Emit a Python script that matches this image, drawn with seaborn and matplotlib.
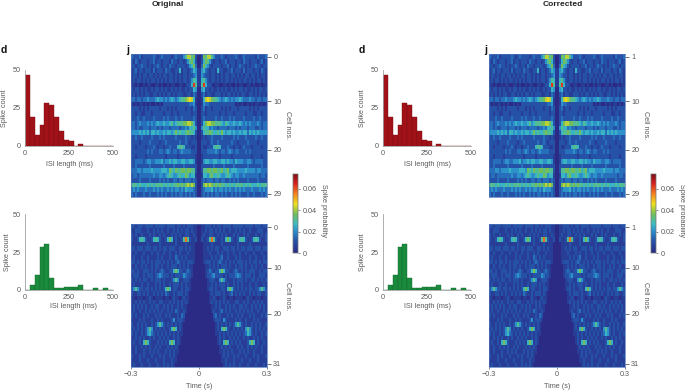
import numpy as np
import pandas as pd
import seaborn as sns
import matplotlib.pyplot as plt
from matplotlib.colors import LinearSegmentedColormap

W, H = 685, 390
GREY = "#58595b"
AXIS = "#a0a0a0"
FS = 5.2

###############################################################
# HISTOGRAM DATA (18 bins over 0-500 ms)
###############################################################
bin_centers = (np.arange(18) + 0.5) * 500 / 18
red_counts = [47, 19, 7, 14, 28, 27, 19, 10, 4, 3, 0, 1, 0, 0, 0, 0, 0, 0]
green_counts = [0, 3, 10, 28, 30, 8, 1, 1, 2, 2, 2, 3, 0, 0, 1, 0, 1, 0]

###############################################################
# AUTOCORRELOGRAMS, right half only (they are symmetric around 0)
# one hex digit per bin: 1 = 0, then 0.0052 spike probability per step
###############################################################
top_rows = [
    "1387997533343233334323433333243334",
    "1368753233233423332332433233323423",
    "1486532333323342332343323233433233",
    "2564323326332233423332423332332432",
    "2543323323232332332323233233232332",
    "2675323323232332323232332323233232",
    "27d6332122112212112122112212112122",
    "1563323223232322323233232232323323",
    "1342332233323233232323322332323232",
    "1269a98776545654545565444544344344",
    "1254433333333333331212112121221212",
    "1342332333323232333233333232323333",
    "1332333333233233323333323332233233",
    "1343333343343334343333433334334333",
    "1368998877765765565565454544454344",
    "1576645443444434443434443444334344",
    "1367787667686566565565664656565555",
    "1232334333343333343433343333433433",
    "1333234334333333433233334333323333",
    "1322333677633343323323433323333233",
    "1333444454344345434433343433333333",
    "1233333333233333233333333323333233",
    "1256655665566565546555445543444433",
    "1333333433334333343333334333333433",
    "1377887887786785666555565555455444",
    "1266578667655676545544544444443443",
    "1343444344344334343433334333343333",
    "1389898787877676767777676766676777",
    "1345556454554545445454544454445454",
    "1343434344343433434343334334333434",
]
bottom_rows = [
    "1223332323323333233333233332333233",
    "1223233232323223223232322322233322",
    "1232233223232322232322323222322323",
    "132237c732232686322367632236763223",
    "1122223222232222222322222322222222",
    "1122323233223332332323323332333233",
    "1122232223232232232232232223222322",
    "1122223232342232223232222322322232",
    "1123332323432323232333232323323233",
    "1112232323233323223233232232322322",
    "1112343233686332234323232333223233",
    "1112334533332323334543233323223332",
    "1111233322575322232333232233232323",
    "1111223232333232232323222322322232",
    "1111233232233268632323232332335753",
    "1111123233323223423232322323233223",
    "1111122321223212212222123221222122",
    "1111123232323232223322323223232322",
    "1111112232322323232233232232323232",
    "1111112322342323223232323232232232",
    "1111111342322232322323222323222323",
    "1111111233325322223232232223232222",
    "1111111123232323235753232232323223",
    "1111111123268632232323257532323232",
    "1111111122323232323232346532322323",
    "1111111112323223232322323223232322",
    "1111111112326862323232223686232232",
    "1111111111232323222323223232322322",
    "1111111111223232322232323223222322",
    "1111111111123232232322232223232223",
    "1111111111122322232223222322232222",
    "1111111111112323232232223222322232",
]

###############################################################
# TICKS AND LABELS
###############################################################
top_tick_pos = [0.6, 9.9, 20.1, 29.3]
bottom_tick_pos = [0.7, 9.8, 20.1, 31.3]
left_top_labels = ["0", "10", "20", "29"]
left_bottom_labels = ["0", "10", "20", "31"]
right_top_labels = ["1", "10", "20", "29"]
right_bottom_labels = ["1", "10", "20", "31"]
cbar_ticks = [0, 0.02, 0.04, 0.06]
cbar_labels = ["0", "0.02", "0.04", "0.06"]

cmap = LinearSegmentedColormap.from_list("muted_jet", [
    (0.0, "#2b2a85"), (0.16, "#2456aa"), (0.27, "#2b8ccb"), (0.37, "#3dbcc0"),
    (0.49, "#70bd5c"), (0.62, "#efe01f"), (0.75, "#f58220"), (0.88, "#d8201f"),
    (1.0, "#7a1015"),
])
VMAX = 0.0735


def to_matrix(rows):
    half = np.array([[(int(c, 16) - 1) * 0.0052 for c in r] for r in rows])
    return pd.DataFrame(np.hstack([half[:, ::-1], half]))


def px_axes(fig, x0, y0, x1, y1):
    return fig.add_axes([x0 / W, 1 - y1 / H, (x1 - x0) / W, (y1 - y0) / H])


def px_text(fig, x, y, s, **kw):
    kw.setdefault("color", GREY)
    kw.setdefault("fontsize", FS)
    fig.text(x / W, 1 - y / H, s, ha="center", va="center", **kw)


def draw_hist(fig, x0, y0, x1, y1, counts, color, edge):
    ax = px_axes(fig, x0, y0, x1, y1)
    sns.histplot(x=bin_centers, weights=counts, binwidth=500 / 18, binrange=(0, 500), ax=ax,
                 color=color, edgecolor=edge, linewidth=0.3, alpha=1)
    ax.set_xlim(0, 500)
    ax.set_ylim(0, 50)
    ax.set_xticks([0, 250, 500])
    ax.set_yticks([0, 25, 50])
    ax.set_xlabel("")
    ax.set_ylabel("")
    sns.despine(ax=ax)
    for s in ["left", "bottom"]:
        ax.spines[s].set_color(AXIS)
        ax.spines[s].set_linewidth(0.6)
    ax.tick_params(length=1.6, width=0.5, color=AXIS, labelcolor=GREY, labelsize=FS, pad=1.5)
    ax.grid(False)
    ax.patch.set_alpha(0)


def draw_heat(fig, x0, y0, x1, y1, data, tick_pos, tick_labels, cax=None):
    ax = px_axes(fig, x0, y0, x1, y1)
    sns.heatmap(data, ax=ax, cmap=cmap, vmin=0, vmax=VMAX, xticklabels=False, yticklabels=False,
                cbar=cax is not None, cbar_ax=cax, rasterized=True)
    ax.yaxis.tick_right()
    ax.set_yticks(tick_pos)
    ax.set_yticklabels(tick_labels, rotation=0)
    ax.tick_params(axis="y", right=True, left=False, length=3, width=0.6, color=GREY,
                   labelcolor=GREY, labelsize=FS, pad=1.5)
    for s in ax.spines.values():
        s.set_visible(True)
        s.set_color("#4f74b8")
        s.set_linewidth(0.5)
    return ax


sns.set_style("white")
plt.rcParams["font.family"] = ["Liberation Sans", "DejaVu Sans"]

fig = plt.figure(figsize=(W / 100, H / 100), dpi=100)
top_df = to_matrix(top_rows)
bottom_df = to_matrix(bottom_rows)

# left group, right group is the same thing moved over
groups = [
    (0, "Original", left_top_labels, left_bottom_labels, 168, 69, 74, 5, 8),
    (358, "Corrected", right_top_labels, right_bottom_labels, 563, 427, 427, 362, 362),
]
for dx, title, top_labels, bottom_labels, title_x, xl_top, xl_bottom, yl_top, yl_bottom in groups:
    px_text(fig, title_x, 4, title, fontweight="bold", color="#222222", fontsize=6)
    px_text(fig, 4 + dx, 50, "d", fontweight="bold", color="#111111", fontsize=7.5)
    px_text(fig, 128 + dx, 50, "j", fontweight="bold", color="#111111", fontsize=7.5)

    draw_hist(fig, 25 + dx, 70, 112.5 + dx, 146, red_counts, "#a01218", "#7d0f12")
    draw_hist(fig, 25 + dx, 214, 112.5 + dx, 290, green_counts, "#1a8a3c", "#136b2e")
    px_text(fig, xl_top, 164, "ISI length (ms)")
    px_text(fig, xl_bottom, 306, "ISI length (ms)")
    px_text(fig, yl_top, 108, "Spike count", rotation=90)
    px_text(fig, yl_bottom, 252, "Spike count", rotation=90)

    cax = px_axes(fig, 293 + dx, 174, 298 + dx, 253)
    draw_heat(fig, 131 + dx, 54, 267 + dx, 197, top_df, top_tick_pos, top_labels, cax=cax)
    cax.set_yticks(cbar_ticks)
    cax.set_yticklabels(cbar_labels)
    cax.tick_params(length=1.6, width=0.5, color=GREY, labelcolor=GREY, labelsize=FS, pad=1.5)
    for s in cax.spines.values():
        s.set_visible(True)
        s.set_color("#777777")
        s.set_linewidth(0.3)

    ax = draw_heat(fig, 131 + dx, 224, 267 + dx, 367, bottom_df, bottom_tick_pos, bottom_labels)
    ax.set_xticks([0, 34, 68])
    ax.set_xticklabels(["\u22120.3", "0", "0.3"], rotation=0)
    ax.tick_params(axis="x", bottom=True, length=1.6, width=0.5, color=GREY,
                   labelcolor=GREY, labelsize=FS, pad=1.5)

    px_text(fig, 199 + dx, 386, "Time (s)")
    px_text(fig, 288 + dx, 125, "Cell nos.", rotation=270)
    px_text(fig, 288 + dx, 296, "Cell nos.", rotation=270)
    px_text(fig, 324 + dx, 211, "Spike probability", rotation=270)

fig.savefig("out.png", dpi=100)
